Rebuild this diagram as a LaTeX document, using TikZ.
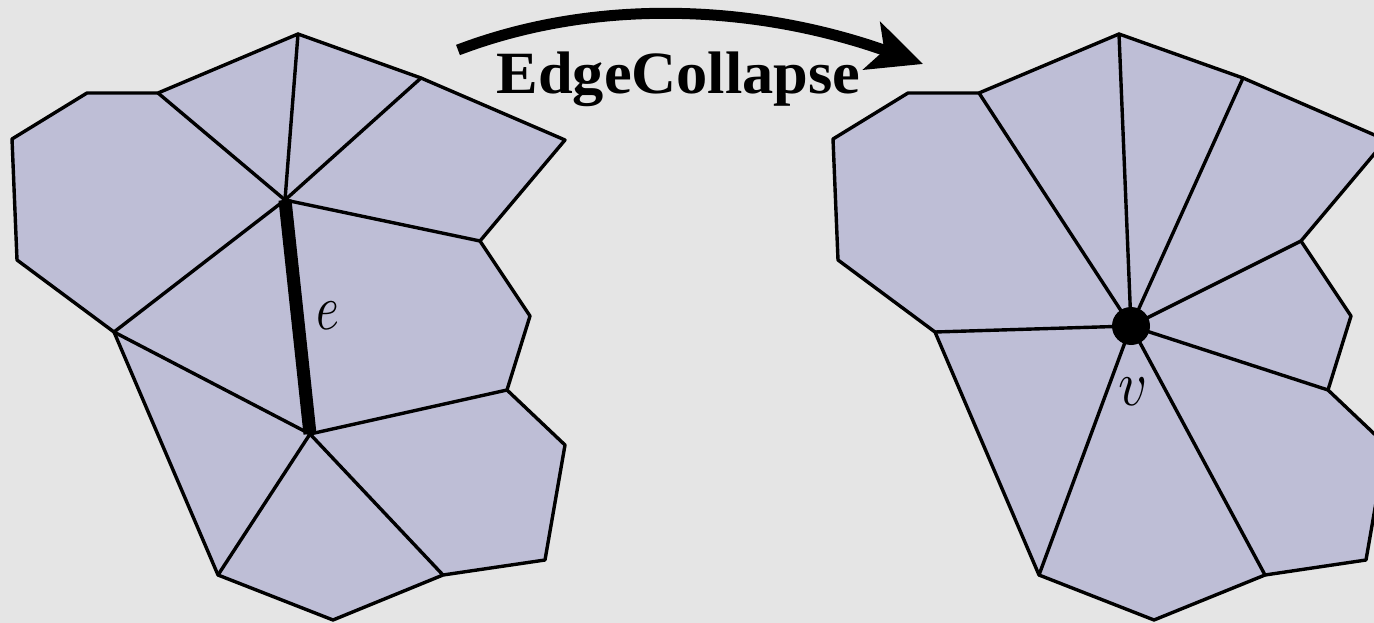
\documentclass[tikz,border=0pt]{standalone}
\usepackage{graphicx}
\usepackage{fontspec}
\setmainfont{Liberation Serif}
\usetikzlibrary{arrows.meta}
\definecolor{bgc}{HTML}{E5E5E5}
\definecolor{meshc}{HTML}{BEBED6}
\tikzset{
  mesh/.style={fill=meshc,draw=black,line width=3.4pt,line join=round},
  inner edge/.style={draw=black,line width=3.4pt,line cap=round},
  collapsed edge/.style={draw=black,line width=13pt},
  vertex dot/.style={circle,fill=black,inner sep=0pt,minimum size=38pt},
  math label/.style={inner sep=0pt},
  title label/.style={font=\fontsize{60}{60}\selectfont\bfseries,inner sep=0pt,anchor=base},
  big arrow/.style={draw=black,line width=11pt,-{Stealth[length=54pt,width=50pt,inset=13pt]}}
}
\begin{document}
\begin{tikzpicture}[x=1pt,y=-1pt]
\useasboundingbox (0,0) rectangle (1374,623);
\fill[bgc] (0,0) rectangle (1374,623);
\clip (0,0) rectangle (1374,623);
% left mesh vertices
\coordinate (L1) at (298,34);
\coordinate (L2) at (421,78);
\coordinate (L3) at (565,140);
\coordinate (L4) at (480,241);
\coordinate (L5) at (530,316);
\coordinate (L6) at (507,390);
\coordinate (L7) at (565,445);
\coordinate (L8) at (545,560);
\coordinate (L9) at (443,575);
\coordinate (L10) at (333,620);
\coordinate (L11) at (218,575);
\coordinate (L12) at (114,332);
\coordinate (L13) at (17,260);
\coordinate (L14) at (12,139);
\coordinate (L15) at (87,93);
\coordinate (L16) at (158,93);
\coordinate (La) at (285,200);
\coordinate (Lb) at (310,434);
\path[mesh] (L1)--(L2)--(L3)--(L4)--(L5)--(L6)--(L7)--(L8)--(L9)--(L10)--(L11)--(L12)--(L13)--(L14)--(L15)--(L16)--cycle;
\foreach \t in {L1,L2,L4,L12,L16} \draw[inner edge] (La)--(\t);
\foreach \t in {L6,L9,L11,L12} \draw[inner edge] (Lb)--(\t);
\draw[collapsed edge] (La)--(Lb);
\node[math label] (elabel) at (328,316) {\scalebox{4.9}[6.4]{$e$}};
% right mesh vertices
\coordinate (R1) at (1119,34);
\coordinate (R2) at (1243,78);
\coordinate (R3) at (1386,140);
\coordinate (R4) at (1301,241);
\coordinate (R5) at (1351,316);
\coordinate (R6) at (1328,390);
\coordinate (R7) at (1386,445);
\coordinate (R8) at (1366,560);
\coordinate (R9) at (1265,575);
\coordinate (R10) at (1154,620);
\coordinate (R11) at (1039,575);
\coordinate (R12) at (935,332);
\coordinate (R13) at (838,260);
\coordinate (R14) at (833,139);
\coordinate (R15) at (908,93);
\coordinate (R16) at (979,93);
\coordinate (Rv) at (1131,326);
\path[mesh] (R1)--(R2)--(R3)--(R4)--(R5)--(R6)--(R7)--(R8)--(R9)--(R10)--(R11)--(R12)--(R13)--(R14)--(R15)--(R16)--cycle;
\foreach \t in {R1,R2,R4,R6,R9,R11,R12,R16} \draw[inner edge] (Rv)--(\t);
\node[vertex dot] (vdot) at (Rv) {};
\node[math label] (vlabel) at (1133,392) {\scalebox{5.6}[6.4]{$v$}};
% arrow and title
\coordinate (A0) at (458,50);
\coordinate (A1) at (923,64);
\draw[big arrow] (A0) .. controls (600,-4) and (760,6) .. (A1);
\node[title label] (title) at (678.5,94) {\scalebox{1.04}[1]{EdgeCollapse}};
\end{tikzpicture}
\end{document}
